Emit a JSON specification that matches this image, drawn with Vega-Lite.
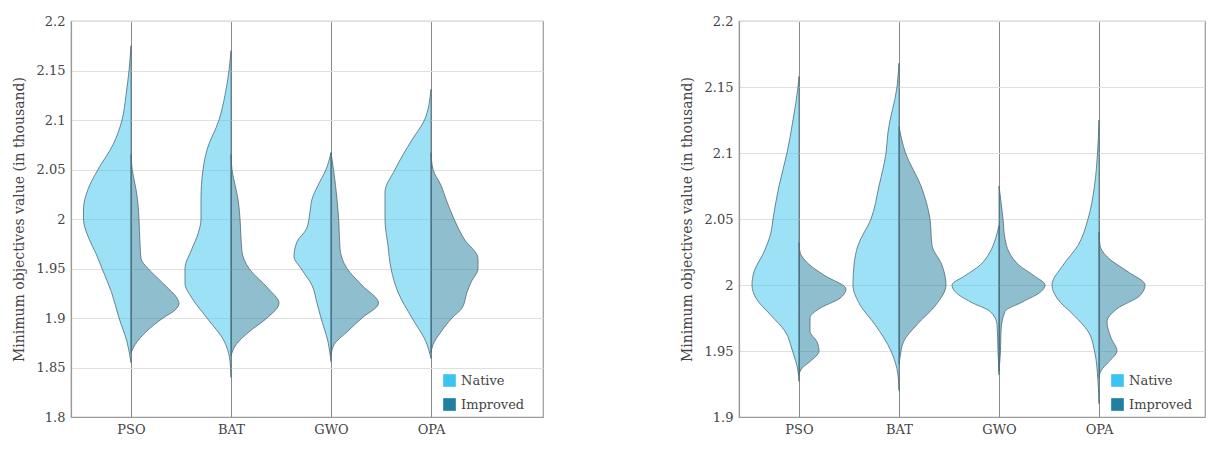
{
  "$schema": "https://vega.github.io/schema/vega-lite/v6.json",
  "background": "white",
  "padding": {"left": 11, "top": 14, "right": 0, "bottom": 0},
  "spacing": 135,
  "config": {
    "font": "DejaVu Serif",
    "view": {"stroke": "#9a9a9a", "strokeWidth": 1.2},
    "axis": {
      "labelFont": "DejaVu Serif", "labelFontSize": 13, "labelColor": "#444",
      "titleFont": "DejaVu Serif", "titleFontSize": 14, "titleFontWeight": "normal", "titleColor": "#444",
      "ticks": false, "domainColor": "#9a9a9a", "domainWidth": 1.2
    },
    "legend": {
      "labelFont": "DejaVu Serif", "labelFontSize": 13, "labelColor": "#444"
    }
  },
  "datasets": {
    "a": [
      {"alg":"PSO","group":"Native","v":2.175,"lo":1,"hi":1},
      {"alg":"PSO","group":"Native","v":2.15,"lo":0.98,"hi":1},
      {"alg":"PSO","group":"Native","v":2.125,"lo":0.95,"hi":1},
      {"alg":"PSO","group":"Native","v":2.1,"lo":0.91,"hi":1},
      {"alg":"PSO","group":"Native","v":2.075,"lo":0.82,"hi":1},
      {"alg":"PSO","group":"Native","v":2.05,"lo":0.67,"hi":1},
      {"alg":"PSO","group":"Native","v":2.03,"lo":0.57,"hi":1},
      {"alg":"PSO","group":"Native","v":2.01,"lo":0.525,"hi":1},
      {"alg":"PSO","group":"Native","v":2.0,"lo":0.525,"hi":1},
      {"alg":"PSO","group":"Native","v":1.98,"lo":0.58,"hi":1},
      {"alg":"PSO","group":"Native","v":1.965,"lo":0.65,"hi":1},
      {"alg":"PSO","group":"Native","v":1.95,"lo":0.71,"hi":1},
      {"alg":"PSO","group":"Native","v":1.926,"lo":0.805,"hi":1},
      {"alg":"PSO","group":"Native","v":1.9,"lo":0.88,"hi":1},
      {"alg":"PSO","group":"Native","v":1.876,"lo":0.96,"hi":1},
      {"alg":"PSO","group":"Native","v":1.855,"lo":1,"hi":1},

      {"alg":"PSO","group":"Improved","v":2.065,"lo":1,"hi":1},
      {"alg":"PSO","group":"Improved","v":2.05,"lo":1,"hi":1.012},
      {"alg":"PSO","group":"Improved","v":2.03,"lo":1,"hi":1.05},
      {"alg":"PSO","group":"Improved","v":2.02,"lo":1,"hi":1.065},
      {"alg":"PSO","group":"Improved","v":2.0,"lo":1,"hi":1.08},
      {"alg":"PSO","group":"Improved","v":1.975,"lo":1,"hi":1.09},
      {"alg":"PSO","group":"Improved","v":1.96,"lo":1,"hi":1.1},
      {"alg":"PSO","group":"Improved","v":1.95,"lo":1,"hi":1.17},
      {"alg":"PSO","group":"Improved","v":1.94,"lo":1,"hi":1.27},
      {"alg":"PSO","group":"Improved","v":1.933,"lo":1,"hi":1.34},
      {"alg":"PSO","group":"Improved","v":1.92,"lo":1,"hi":1.46},
      {"alg":"PSO","group":"Improved","v":1.915,"lo":1,"hi":1.48},
      {"alg":"PSO","group":"Improved","v":1.908,"lo":1,"hi":1.44},
      {"alg":"PSO","group":"Improved","v":1.9,"lo":1,"hi":1.32},
      {"alg":"PSO","group":"Improved","v":1.886,"lo":1,"hi":1.15},
      {"alg":"PSO","group":"Improved","v":1.873,"lo":1,"hi":1.04},
      {"alg":"PSO","group":"Improved","v":1.865,"lo":1,"hi":1},

      {"alg":"BAT","group":"Native","v":2.17,"lo":2,"hi":2},
      {"alg":"BAT","group":"Native","v":2.15,"lo":1.98,"hi":2},
      {"alg":"BAT","group":"Native","v":2.125,"lo":1.94,"hi":2},
      {"alg":"BAT","group":"Native","v":2.1,"lo":1.88,"hi":2},
      {"alg":"BAT","group":"Native","v":2.07,"lo":1.76,"hi":2},
      {"alg":"BAT","group":"Native","v":2.05,"lo":1.72,"hi":2},
      {"alg":"BAT","group":"Native","v":2.02,"lo":1.7,"hi":2},
      {"alg":"BAT","group":"Native","v":2.0,"lo":1.7,"hi":2},
      {"alg":"BAT","group":"Native","v":1.985,"lo":1.67,"hi":2},
      {"alg":"BAT","group":"Native","v":1.97,"lo":1.61,"hi":2},
      {"alg":"BAT","group":"Native","v":1.95,"lo":1.54,"hi":2},
      {"alg":"BAT","group":"Native","v":1.935,"lo":1.54,"hi":2},
      {"alg":"BAT","group":"Native","v":1.92,"lo":1.61,"hi":2},
      {"alg":"BAT","group":"Native","v":1.9,"lo":1.76,"hi":2},
      {"alg":"BAT","group":"Native","v":1.876,"lo":1.935,"hi":2},
      {"alg":"BAT","group":"Native","v":1.86,"lo":1.985,"hi":2},
      {"alg":"BAT","group":"Native","v":1.84,"lo":2,"hi":2},

      {"alg":"BAT","group":"Improved","v":2.065,"lo":2,"hi":2},
      {"alg":"BAT","group":"Improved","v":2.05,"lo":2,"hi":2.01},
      {"alg":"BAT","group":"Improved","v":2.03,"lo":2,"hi":2.05},
      {"alg":"BAT","group":"Improved","v":2.02,"lo":2,"hi":2.07},
      {"alg":"BAT","group":"Improved","v":2.0,"lo":2,"hi":2.09},
      {"alg":"BAT","group":"Improved","v":1.967,"lo":2,"hi":2.11},
      {"alg":"BAT","group":"Improved","v":1.95,"lo":2,"hi":2.18},
      {"alg":"BAT","group":"Improved","v":1.93,"lo":2,"hi":2.37},
      {"alg":"BAT","group":"Improved","v":1.915,"lo":2,"hi":2.48},
      {"alg":"BAT","group":"Improved","v":1.9,"lo":2,"hi":2.36},
      {"alg":"BAT","group":"Improved","v":1.886,"lo":2,"hi":2.18},
      {"alg":"BAT","group":"Improved","v":1.873,"lo":2,"hi":2.05},
      {"alg":"BAT","group":"Improved","v":1.862,"lo":2,"hi":2},

      {"alg":"GWO","group":"Native","v":2.067,"lo":3,"hi":3},
      {"alg":"GWO","group":"Native","v":2.05,"lo":2.95,"hi":3},
      {"alg":"GWO","group":"Native","v":2.034,"lo":2.87,"hi":3},
      {"alg":"GWO","group":"Native","v":2.02,"lo":2.81,"hi":3},
      {"alg":"GWO","group":"Native","v":2.007,"lo":2.79,"hi":3},
      {"alg":"GWO","group":"Native","v":1.99,"lo":2.755,"hi":3},
      {"alg":"GWO","group":"Native","v":1.977,"lo":2.66,"hi":3},
      {"alg":"GWO","group":"Native","v":1.962,"lo":2.63,"hi":3},
      {"alg":"GWO","group":"Native","v":1.95,"lo":2.7,"hi":3},
      {"alg":"GWO","group":"Native","v":1.933,"lo":2.81,"hi":3},
      {"alg":"GWO","group":"Native","v":1.915,"lo":2.86,"hi":3},
      {"alg":"GWO","group":"Native","v":1.9,"lo":2.9,"hi":3},
      {"alg":"GWO","group":"Native","v":1.876,"lo":2.97,"hi":3},
      {"alg":"GWO","group":"Native","v":1.856,"lo":3,"hi":3},

      {"alg":"GWO","group":"Improved","v":2.067,"lo":3,"hi":3},
      {"alg":"GWO","group":"Improved","v":2.05,"lo":3,"hi":3.025},
      {"alg":"GWO","group":"Improved","v":2.02,"lo":3,"hi":3.06},
      {"alg":"GWO","group":"Improved","v":2.0,"lo":3,"hi":3.077},
      {"alg":"GWO","group":"Improved","v":1.97,"lo":3,"hi":3.09},
      {"alg":"GWO","group":"Improved","v":1.95,"lo":3,"hi":3.16},
      {"alg":"GWO","group":"Improved","v":1.933,"lo":3,"hi":3.31},
      {"alg":"GWO","group":"Improved","v":1.915,"lo":3,"hi":3.475},
      {"alg":"GWO","group":"Improved","v":1.9,"lo":3,"hi":3.31},
      {"alg":"GWO","group":"Improved","v":1.886,"lo":3,"hi":3.16},
      {"alg":"GWO","group":"Improved","v":1.873,"lo":3,"hi":3.03},
      {"alg":"GWO","group":"Improved","v":1.862,"lo":3,"hi":3},

      {"alg":"OPA","group":"Native","v":2.131,"lo":4,"hi":4},
      {"alg":"OPA","group":"Native","v":2.1,"lo":3.935,"hi":4},
      {"alg":"OPA","group":"Native","v":2.08,"lo":3.81,"hi":4},
      {"alg":"OPA","group":"Native","v":2.05,"lo":3.64,"hi":4},
      {"alg":"OPA","group":"Native","v":2.027,"lo":3.54,"hi":4},
      {"alg":"OPA","group":"Native","v":2.0,"lo":3.54,"hi":4},
      {"alg":"OPA","group":"Native","v":1.973,"lo":3.57,"hi":4},
      {"alg":"OPA","group":"Native","v":1.95,"lo":3.6,"hi":4},
      {"alg":"OPA","group":"Native","v":1.926,"lo":3.67,"hi":4},
      {"alg":"OPA","group":"Native","v":1.9,"lo":3.81,"hi":4},
      {"alg":"OPA","group":"Native","v":1.876,"lo":3.95,"hi":4},
      {"alg":"OPA","group":"Native","v":1.859,"lo":4,"hi":4},

      {"alg":"OPA","group":"Improved","v":2.067,"lo":4,"hi":4},
      {"alg":"OPA","group":"Improved","v":2.05,"lo":4,"hi":4.02},
      {"alg":"OPA","group":"Improved","v":2.034,"lo":4,"hi":4.1},
      {"alg":"OPA","group":"Improved","v":2.02,"lo":4,"hi":4.15},
      {"alg":"OPA","group":"Improved","v":2.0,"lo":4,"hi":4.23},
      {"alg":"OPA","group":"Improved","v":1.98,"lo":4,"hi":4.33},
      {"alg":"OPA","group":"Improved","v":1.96,"lo":4,"hi":4.47},
      {"alg":"OPA","group":"Improved","v":1.95,"lo":4,"hi":4.47},
      {"alg":"OPA","group":"Improved","v":1.936,"lo":4,"hi":4.4},
      {"alg":"OPA","group":"Improved","v":1.926,"lo":4,"hi":4.36},
      {"alg":"OPA","group":"Improved","v":1.91,"lo":4,"hi":4.31},
      {"alg":"OPA","group":"Improved","v":1.9,"lo":4,"hi":4.21},
      {"alg":"OPA","group":"Improved","v":1.886,"lo":4,"hi":4.1},
      {"alg":"OPA","group":"Improved","v":1.873,"lo":4,"hi":4.02},
      {"alg":"OPA","group":"Improved","v":1.865,"lo":4,"hi":4}
    ],
    "b": [
      {"alg":"PSO","group":"Native","v":2.158,"lo":1,"hi":1},
      {"alg":"PSO","group":"Native","v":2.15,"lo":0.99,"hi":1},
      {"alg":"PSO","group":"Native","v":2.125,"lo":0.94,"hi":1},
      {"alg":"PSO","group":"Native","v":2.1,"lo":0.88,"hi":1},
      {"alg":"PSO","group":"Native","v":2.075,"lo":0.8,"hi":1},
      {"alg":"PSO","group":"Native","v":2.05,"lo":0.74,"hi":1},
      {"alg":"PSO","group":"Native","v":2.04,"lo":0.72,"hi":1},
      {"alg":"PSO","group":"Native","v":2.025,"lo":0.65,"hi":1},
      {"alg":"PSO","group":"Native","v":2.01,"lo":0.55,"hi":1},
      {"alg":"PSO","group":"Native","v":2.0,"lo":0.53,"hi":1},
      {"alg":"PSO","group":"Native","v":1.99,"lo":0.57,"hi":1},
      {"alg":"PSO","group":"Native","v":1.977,"lo":0.72,"hi":1},
      {"alg":"PSO","group":"Native","v":1.965,"lo":0.86,"hi":1},
      {"alg":"PSO","group":"Native","v":1.95,"lo":0.935,"hi":1},
      {"alg":"PSO","group":"Native","v":1.935,"lo":0.99,"hi":1},
      {"alg":"PSO","group":"Native","v":1.927,"lo":1,"hi":1},

      {"alg":"PSO","group":"Improved","v":2.032,"lo":1,"hi":1},
      {"alg":"PSO","group":"Improved","v":2.025,"lo":1,"hi":1.01},
      {"alg":"PSO","group":"Improved","v":2.015,"lo":1,"hi":1.11},
      {"alg":"PSO","group":"Improved","v":2.007,"lo":1,"hi":1.26},
      {"alg":"PSO","group":"Improved","v":1.997,"lo":1,"hi":1.47},
      {"alg":"PSO","group":"Improved","v":1.99,"lo":1,"hi":1.41},
      {"alg":"PSO","group":"Improved","v":1.982,"lo":1,"hi":1.2},
      {"alg":"PSO","group":"Improved","v":1.975,"lo":1,"hi":1.11},
      {"alg":"PSO","group":"Improved","v":1.965,"lo":1,"hi":1.11},
      {"alg":"PSO","group":"Improved","v":1.957,"lo":1,"hi":1.18},
      {"alg":"PSO","group":"Improved","v":1.95,"lo":1,"hi":1.2},
      {"alg":"PSO","group":"Improved","v":1.942,"lo":1,"hi":1.11},
      {"alg":"PSO","group":"Improved","v":1.937,"lo":1,"hi":1.03},
      {"alg":"PSO","group":"Improved","v":1.932,"lo":1,"hi":1},

      {"alg":"BAT","group":"Native","v":2.168,"lo":2,"hi":2},
      {"alg":"BAT","group":"Native","v":2.15,"lo":1.98,"hi":2},
      {"alg":"BAT","group":"Native","v":2.116,"lo":1.89,"hi":2},
      {"alg":"BAT","group":"Native","v":2.1,"lo":1.87,"hi":2},
      {"alg":"BAT","group":"Native","v":2.075,"lo":1.8,"hi":2},
      {"alg":"BAT","group":"Native","v":2.05,"lo":1.72,"hi":2},
      {"alg":"BAT","group":"Native","v":2.03,"lo":1.59,"hi":2},
      {"alg":"BAT","group":"Native","v":2.015,"lo":1.55,"hi":2},
      {"alg":"BAT","group":"Native","v":2.0,"lo":1.54,"hi":2},
      {"alg":"BAT","group":"Native","v":1.985,"lo":1.61,"hi":2},
      {"alg":"BAT","group":"Native","v":1.97,"lo":1.76,"hi":2},
      {"alg":"BAT","group":"Native","v":1.95,"lo":1.92,"hi":2},
      {"alg":"BAT","group":"Native","v":1.932,"lo":1.99,"hi":2},
      {"alg":"BAT","group":"Native","v":1.92,"lo":2,"hi":2},

      {"alg":"BAT","group":"Improved","v":2.12,"lo":2,"hi":2},
      {"alg":"BAT","group":"Improved","v":2.1,"lo":2,"hi":2.065},
      {"alg":"BAT","group":"Improved","v":2.075,"lo":2,"hi":2.22},
      {"alg":"BAT","group":"Improved","v":2.05,"lo":2,"hi":2.31},
      {"alg":"BAT","group":"Improved","v":2.03,"lo":2,"hi":2.33},
      {"alg":"BAT","group":"Improved","v":2.015,"lo":2,"hi":2.43},
      {"alg":"BAT","group":"Improved","v":2.0,"lo":2,"hi":2.47},
      {"alg":"BAT","group":"Improved","v":1.985,"lo":2,"hi":2.37},
      {"alg":"BAT","group":"Improved","v":1.97,"lo":2,"hi":2.18},
      {"alg":"BAT","group":"Improved","v":1.957,"lo":2,"hi":2.045},
      {"alg":"BAT","group":"Improved","v":1.945,"lo":2,"hi":2.01},
      {"alg":"BAT","group":"Improved","v":1.94,"lo":2,"hi":2},

      {"alg":"GWO","group":"Native","v":2.045,"lo":3,"hi":3},
      {"alg":"GWO","group":"Native","v":2.035,"lo":2.965,"hi":3},
      {"alg":"GWO","group":"Native","v":2.025,"lo":2.91,"hi":3},
      {"alg":"GWO","group":"Native","v":2.015,"lo":2.81,"hi":3},
      {"alg":"GWO","group":"Native","v":2.007,"lo":2.66,"hi":3},
      {"alg":"GWO","group":"Native","v":2.0,"lo":2.53,"hi":3},
      {"alg":"GWO","group":"Native","v":1.995,"lo":2.56,"hi":3},
      {"alg":"GWO","group":"Native","v":1.987,"lo":2.72,"hi":3},
      {"alg":"GWO","group":"Native","v":1.98,"lo":2.91,"hi":3},
      {"alg":"GWO","group":"Native","v":1.97,"lo":2.98,"hi":3},
      {"alg":"GWO","group":"Native","v":1.95,"lo":2.99,"hi":3},
      {"alg":"GWO","group":"Native","v":1.932,"lo":3,"hi":3},

      {"alg":"GWO","group":"Improved","v":2.075,"lo":3,"hi":3},
      {"alg":"GWO","group":"Improved","v":2.05,"lo":3,"hi":3.04},
      {"alg":"GWO","group":"Improved","v":2.035,"lo":3,"hi":3.06},
      {"alg":"GWO","group":"Improved","v":2.025,"lo":3,"hi":3.1},
      {"alg":"GWO","group":"Improved","v":2.015,"lo":3,"hi":3.2},
      {"alg":"GWO","group":"Improved","v":2.007,"lo":3,"hi":3.35},
      {"alg":"GWO","group":"Improved","v":2.0,"lo":3,"hi":3.46},
      {"alg":"GWO","group":"Improved","v":1.995,"lo":3,"hi":3.42},
      {"alg":"GWO","group":"Improved","v":1.987,"lo":3,"hi":3.23},
      {"alg":"GWO","group":"Improved","v":1.98,"lo":3,"hi":3.06},
      {"alg":"GWO","group":"Improved","v":1.965,"lo":3,"hi":3.02},
      {"alg":"GWO","group":"Improved","v":1.95,"lo":3,"hi":3.015},
      {"alg":"GWO","group":"Improved","v":1.935,"lo":3,"hi":3},

      {"alg":"OPA","group":"Native","v":2.125,"lo":4,"hi":4},
      {"alg":"OPA","group":"Native","v":2.1,"lo":3.985,"hi":4},
      {"alg":"OPA","group":"Native","v":2.075,"lo":3.955,"hi":4},
      {"alg":"OPA","group":"Native","v":2.05,"lo":3.89,"hi":4},
      {"alg":"OPA","group":"Native","v":2.03,"lo":3.79,"hi":4},
      {"alg":"OPA","group":"Native","v":2.015,"lo":3.64,"hi":4},
      {"alg":"OPA","group":"Native","v":2.0,"lo":3.53,"hi":4},
      {"alg":"OPA","group":"Native","v":1.99,"lo":3.58,"hi":4},
      {"alg":"OPA","group":"Native","v":1.977,"lo":3.75,"hi":4},
      {"alg":"OPA","group":"Native","v":1.965,"lo":3.89,"hi":4},
      {"alg":"OPA","group":"Native","v":1.95,"lo":3.955,"hi":4},
      {"alg":"OPA","group":"Native","v":1.927,"lo":3.99,"hi":4},
      {"alg":"OPA","group":"Native","v":1.91,"lo":4,"hi":4},

      {"alg":"OPA","group":"Improved","v":2.04,"lo":4,"hi":4},
      {"alg":"OPA","group":"Improved","v":2.03,"lo":4,"hi":4.01},
      {"alg":"OPA","group":"Improved","v":2.02,"lo":4,"hi":4.1},
      {"alg":"OPA","group":"Improved","v":2.01,"lo":4,"hi":4.29},
      {"alg":"OPA","group":"Improved","v":2.0,"lo":4,"hi":4.46},
      {"alg":"OPA","group":"Improved","v":1.992,"lo":4,"hi":4.41},
      {"alg":"OPA","group":"Improved","v":1.982,"lo":4,"hi":4.18},
      {"alg":"OPA","group":"Improved","v":1.972,"lo":4,"hi":4.08},
      {"alg":"OPA","group":"Improved","v":1.96,"lo":4,"hi":4.12},
      {"alg":"OPA","group":"Improved","v":1.95,"lo":4,"hi":4.18},
      {"alg":"OPA","group":"Improved","v":1.942,"lo":4,"hi":4.1},
      {"alg":"OPA","group":"Improved","v":1.935,"lo":4,"hi":4.02},
      {"alg":"OPA","group":"Improved","v":1.93,"lo":4,"hi":4}
    ]
  },
  "hconcat": [
    {
      "width": 472, "height": 396,
      "data": {"name": "a"},
      "mark": {"type": "area", "orient": "horizontal", "interpolate": "monotone", "fillOpacity": 0.5, "stroke": "#4e6a76", "strokeWidth": 0.8},
      "encoding": {
        "y": {"field": "v", "type": "quantitative",
              "scale": {"domain": [1.8, 2.2], "nice": false, "zero": false},
              "axis": {"values": [1.8, 1.85, 1.9, 1.95, 2.0, 2.05, 2.1, 2.15, 2.2], "format": ".2~f",
                       "title": "Minimum objectives value (in thousand)", "grid": true, "gridColor": "#e0e0e0",
                       "labelPadding": 6, "titlePadding": 10}},
        "x": {"field": "lo", "type": "quantitative",
              "scale": {"domain": [0.4, 5.12], "nice": false, "zero": false},
              "axis": {"values": [1, 2, 3, 4], "labelExpr": "['', 'PSO', 'BAT', 'GWO', 'OPA'][datum.value]",
                       "title": null, "grid": true, "gridColor": "#8a8a8a", "labelPadding": 6}},
        "x2": {"field": "hi"},
        "color": {"field": "group", "type": "nominal",
                  "scale": {"domain": ["Native", "Improved"], "range": ["#3cc4f0", "#2080a0"]},
                  "legend": {"orient": "none", "legendX": 372, "legendY": 353, "title": null, "symbolType": "square", "symbolSize": 160,
                             "symbolOpacity": 1, "symbolStrokeWidth": 0, "rowPadding": 10, "labelOffset": 5}},
        "detail": {"field": "alg"}
      }
    },
    {
      "width": 466, "height": 396,
      "data": {"name": "b"},
      "mark": {"type": "area", "orient": "horizontal", "interpolate": "monotone", "fillOpacity": 0.5, "stroke": "#4e6a76", "strokeWidth": 0.8},
      "encoding": {
        "y": {"field": "v", "type": "quantitative",
              "scale": {"domain": [1.9, 2.2], "nice": false, "zero": false},
              "axis": {"values": [1.9, 1.95, 2.0, 2.05, 2.1, 2.15, 2.2], "format": ".2~f",
                       "title": "Minimum objectives value (in thousand)", "grid": true, "gridColor": "#e0e0e0",
                       "labelPadding": 6, "titlePadding": 10}},
        "x": {"field": "lo", "type": "quantitative",
              "scale": {"domain": [0.4, 5.06], "nice": false, "zero": false},
              "axis": {"values": [1, 2, 3, 4], "labelExpr": "['', 'PSO', 'BAT', 'GWO', 'OPA'][datum.value]",
                       "title": null, "grid": true, "gridColor": "#8a8a8a", "labelPadding": 6}},
        "x2": {"field": "hi"},
        "color": {"field": "group", "type": "nominal",
                  "scale": {"domain": ["Native", "Improved"], "range": ["#3cc4f0", "#2080a0"]},
                  "legend": {"orient": "none", "legendX": 372, "legendY": 353, "title": null, "symbolType": "square", "symbolSize": 160,
                             "symbolOpacity": 1, "symbolStrokeWidth": 0, "rowPadding": 10, "labelOffset": 5}},
        "detail": {"field": "alg"}
      }
    }
  ],
  "resolve": {"scale": {"color": "independent", "x": "independent", "y": "independent"}, "legend": {"color": "independent"}}
}
